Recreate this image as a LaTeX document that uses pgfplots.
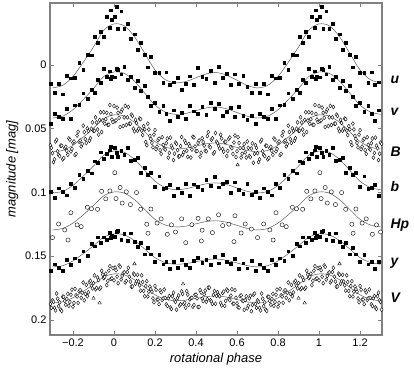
\documentclass[border=0pt]{standalone}
\usepackage{fontspec}
\setmainfont{Liberation Sans}
\usepackage{pgfplots}
\usepackage{pgfplotstable}
\pgfplotsset{compat=1.18}

% Stromgren u v b y, phase folded to [0,1)
\pgfplotstableread{
ph u v b y
0.005 -0.0380 0.0096 0.0646 0.1346
0.020 -0.0286 0.0039 0.0719 0.1298
0.035 -0.0421 0.0073 0.0672 0.1370
0.050 -0.0287 0.0016 0.0705 0.1323
0.065 -0.0321 0.0114 0.0652 0.1376
0.080 -0.0206 0.0093 0.0748 0.1319
0.100 -0.0242 0.0177 0.0741 0.1387
0.115 -0.0122 0.0125 0.0726 0.1427
0.130 -0.0173 0.0204 0.0842 0.1397
0.150 -0.0081 0.0161 0.0806 0.1484
0.165 0.0018 0.0249 0.0862 0.1434
0.180 -0.0063 0.0317 0.0848 0.1485
0.200 0.0059 0.0295 0.0952 0.1541
0.220 0.0060 0.0367 0.0872 0.1487
0.240 0.0140 0.0318 0.0971 0.1563
0.255 0.0057 0.0381 0.0963 0.1542
0.270 0.0155 0.0436 0.0938 0.1596
0.290 0.0135 0.0354 0.1024 0.1541
0.310 0.0098 0.0406 0.0966 0.1592
0.330 0.0194 0.0373 0.1004 0.1530
0.350 0.0150 0.0420 0.0931 0.1568
0.370 0.0088 0.0321 0.1023 0.1592
0.390 0.0156 0.0363 0.0935 0.1536
0.410 0.0024 0.0384 0.0957 0.1509
0.430 0.0092 0.0325 0.0980 0.1553
0.450 0.0110 0.0387 0.0902 0.1527
0.470 0.0046 0.0294 0.0949 0.1565
0.490 0.0142 0.0341 0.0876 0.1503
0.510 0.0014 0.0302 0.0958 0.1554
0.530 0.0102 0.0398 0.0933 0.1488
0.550 0.0070 0.0364 0.0918 0.1542
0.570 0.0156 0.0335 0.0999 0.1560
0.590 0.0072 0.0407 0.0919 0.1519
0.610 0.0148 0.0328 0.0980 0.1597
0.630 0.0084 0.0400 0.1010 0.1555
0.650 0.0170 0.0432 0.0931 0.1594
0.670 0.0218 0.0397 0.1016 0.1538
0.690 0.0146 0.0463 0.0991 0.1612
0.710 0.0216 0.0383 0.1041 0.1562
0.730 0.0148 0.0407 0.0966 0.1588
0.750 0.0230 0.0422 0.0991 0.1614
0.770 0.0082 0.0341 0.1022 0.1529
0.790 0.0104 0.0421 0.0934 0.1565
0.810 0.0098 0.0315 0.0960 0.1516
0.830 -0.0017 0.0313 0.0861 0.1533
0.850 0.0039 0.0222 0.0892 0.1460
0.870 -0.0079 0.0267 0.0831 0.1496
0.890 -0.0077 0.0192 0.0849 0.1401
0.905 -0.0224 0.0216 0.0755 0.1422
0.920 -0.0173 0.0117 0.0769 0.1351
0.935 -0.0263 0.0139 0.0684 0.1391
0.950 -0.0222 0.0031 0.0738 0.1351
0.965 -0.0377 0.0090 0.0698 0.1373
0.980 -0.0292 0.0049 0.0668 0.1315
0.990 -0.0352 0.0092 0.0722 0.1340
0.012 -0.0455 0.0030 0.0690 0.1310
0.985 -0.0430 0.0110 0.0640 0.1355
}\strom

% Johnson B V, phase folded to [0,1)
\pgfplotstableread{
ph B V
0.000 0.0322 0.1689
0.005 0.0442 0.1589
0.010 0.0434 0.1610
0.015 0.0334 0.1660
0.020 0.0375 0.1712
0.025 0.0415 0.1572
0.030 0.0487 0.1583
0.035 0.0367 0.1683
0.040 0.0349 0.1654
0.045 0.0479 0.1634
0.050 0.0411 0.1626
0.055 0.0321 0.1706
0.060 0.0471 0.1694
0.065 0.0411 0.1624
0.070 0.0330 0.1591
0.075 0.0460 0.1661
0.080 0.0460 0.1699
0.085 0.0390 0.1739
0.090 0.0400 0.1737
0.095 0.0500 0.1637
0.100 0.0520 0.1645
0.105 0.0430 0.1715
0.110 0.0455 0.1696
0.115 0.0515 0.1646
0.120 0.0500 0.1698
0.125 0.0420 0.1728
0.130 0.0425 0.1770
0.135 0.0515 0.1650
0.140 0.0550 0.1702
0.145 0.0480 0.1772
0.150 0.0505 0.1814
0.155 0.0605 0.1734
0.160 0.0630 0.1696
0.165 0.0460 0.1816
0.170 0.0506 0.1778
0.175 0.0556 0.1738
0.180 0.0581 0.1759
0.185 0.0611 0.1779
0.190 0.0646 0.1831
0.195 0.0546 0.1861
0.200 0.0511 0.1733
0.205 0.0661 0.1763
0.210 0.0640 0.1840
0.215 0.0590 0.1840
0.220 0.0578 0.1877
0.225 0.0668 0.1767
0.230 0.0697 0.1784
0.235 0.0567 0.1844
0.240 0.0626 0.1831
0.245 0.0656 0.1761
0.250 0.0664 0.1827
0.255 0.0614 0.1877
0.260 0.0577 0.1890
0.265 0.0727 0.1830
0.270 0.0690 0.1812
0.275 0.0570 0.1902
0.280 0.0633 0.1914
0.285 0.0653 0.1814
0.290 0.0746 0.1786
0.295 0.0696 0.1846
0.300 0.0609 0.1859
0.305 0.0619 0.1919
0.310 0.0668 0.1828
0.315 0.0718 0.1808
0.320 0.0716 0.1887
0.325 0.0636 0.1877
0.330 0.0565 0.1776
0.335 0.0705 0.1796
0.340 0.0684 0.1875
0.345 0.0594 0.1865
0.350 0.0613 0.1904
0.355 0.0673 0.1774
0.360 0.0720 0.1801
0.365 0.0620 0.1881
0.370 0.0636 0.1839
0.375 0.0726 0.1829
0.380 0.0663 0.1826
0.385 0.0563 0.1896
0.390 0.0569 0.1883
0.395 0.0639 0.1803
0.400 0.0676 0.1801
0.405 0.0676 0.1831
0.410 0.0612 0.1898
0.415 0.0592 0.1898
0.420 0.0719 0.1765
0.425 0.0689 0.1785
0.430 0.0575 0.1832
0.435 0.0605 0.1852
0.440 0.0632 0.1800
0.445 0.0672 0.1770
0.450 0.0678 0.1857
0.455 0.0558 0.1837
0.460 0.0527 0.1746
0.465 0.0637 0.1746
0.470 0.0646 0.1845
0.475 0.0586 0.1855
0.480 0.0575 0.1874
0.485 0.0695 0.1804
0.490 0.0684 0.1773
0.495 0.0534 0.1873
0.500 0.0602 0.1812
0.505 0.0612 0.1782
0.510 0.0635 0.1804
0.515 0.0655 0.1814
0.520 0.0547 0.1866
0.525 0.0577 0.1886
0.530 0.0659 0.1788
0.535 0.0679 0.1778
0.540 0.0602 0.1890
0.545 0.0602 0.1850
0.550 0.0714 0.1761
0.555 0.0674 0.1771
0.560 0.0579 0.1835
0.565 0.0569 0.1845
0.570 0.0643 0.1809
0.575 0.0653 0.1759
0.580 0.0698 0.1872
0.585 0.0608 0.1872
0.590 0.0553 0.1766
0.595 0.0723 0.1826
0.600 0.0677 0.1870
0.605 0.0567 0.1900
0.610 0.0612 0.1903
0.615 0.0652 0.1813
0.620 0.0726 0.1807
0.625 0.0696 0.1847
0.630 0.0651 0.1851
0.635 0.0621 0.1921
0.640 0.0686 0.1844
0.645 0.0726 0.1814
0.650 0.0600 0.1908
0.655 0.0650 0.1888
0.660 0.0713 0.1830
0.665 0.0723 0.1810
0.670 0.0655 0.1932
0.675 0.0615 0.1882
0.680 0.0767 0.1803
0.685 0.0697 0.1793
0.690 0.0630 0.1875
0.695 0.0650 0.1905
0.700 0.0692 0.1847
0.705 0.0762 0.1857
0.710 0.0740 0.1905
0.715 0.0600 0.1925
0.720 0.0587 0.1793
0.725 0.0677 0.1833
0.730 0.0705 0.1892
0.735 0.0715 0.1862
0.740 0.0633 0.1920
0.745 0.0633 0.1930
0.750 0.0740 0.1818
0.755 0.0730 0.1818
0.760 0.0652 0.1851
0.765 0.0642 0.1881
0.770 0.0674 0.1835
0.775 0.0704 0.1795
0.780 0.0576 0.1889
0.785 0.0586 0.1859
0.790 0.0678 0.1802
0.795 0.0658 0.1762
0.800 0.0610 0.1896
0.805 0.0600 0.1866
0.810 0.0707 0.1756
0.815 0.0697 0.1806
0.820 0.0554 0.1816
0.825 0.0524 0.1866
0.830 0.0602 0.1776
0.835 0.0592 0.1766
0.840 0.0639 0.1826
0.845 0.0619 0.1786
0.850 0.0476 0.1706
0.855 0.0526 0.1846
0.860 0.0582 0.1795
0.865 0.0612 0.1725
0.870 0.0498 0.1814
0.875 0.0518 0.1784
0.880 0.0594 0.1703
0.885 0.0574 0.1693
0.890 0.0500 0.1732
0.895 0.0450 0.1752
0.900 0.0516 0.1711
0.905 0.0516 0.1651
0.910 0.0411 0.1759
0.915 0.0451 0.1749
0.920 0.0506 0.1667
0.925 0.0546 0.1687
0.930 0.0431 0.1756
0.935 0.0371 0.1746
0.940 0.0526 0.1614
0.945 0.0436 0.1644
0.950 0.0371 0.1672
0.955 0.0461 0.1662
0.960 0.0425 0.1637
0.965 0.0375 0.1727
0.970 0.0469 0.1693
0.975 0.0469 0.1613
0.980 0.0314 0.1578
0.985 0.0384 0.1678
0.990 0.0428 0.1674
0.995 0.0448 0.1594
}\johnson

% Hipparcos Hp, phase folded to [0,1)
\pgfplotstableread{
ph Hp
0.01 0.1048
0.03 0.0961
0.04 0.1083
0.06 0.0995
0.08 0.1095
0.11 0.1001
0.13 0.1132
0.16 0.1249
0.18 0.1130
0.21 0.1240
0.23 0.1207
0.26 0.1328
0.28 0.1254
0.30 0.1310
0.33 0.1207
0.35 0.1394
0.38 0.1253
0.41 0.1203
0.43 0.1296
0.46 0.1207
0.48 0.1315
0.51 0.1175
0.53 0.1260
0.56 0.1249
0.59 0.1183
0.62 0.1318
0.64 0.1247
0.67 0.1287
0.70 0.1354
0.73 0.1247
0.76 0.1294
0.79 0.1159
0.82 0.1254
0.84 0.1268
0.87 0.1116
0.89 0.1128
0.92 0.1132
0.94 0.0991
0.96 0.1050
0.98 0.0988
0.004 0.0845
0.166 0.1320
0.426 0.1380
0.585 0.1386
0.776 0.1373
}\hipp

% odd points (open triangles)
\pgfplotstableread{
ph m
0.100 0.1560
0.337 0.1718
0.603 0.0784
0.900 0.1830
0.930 0.1867
}\odd

% fitted light curves
\pgfplotstableread{
ph u v B b Hp y V
-0.30 0.0180 0.0416 0.0682 0.1004 0.1294 0.1584 0.1867
-0.25 0.0160 0.0402 0.0670 0.0991 0.1282 0.1574 0.1858
-0.20 0.0090 0.0351 0.0630 0.0945 0.1240 0.1537 0.1826
-0.15 -0.0021 0.0272 0.0566 0.0872 0.1175 0.1480 0.1776
-0.10 -0.0141 0.0185 0.0496 0.0793 0.1103 0.1418 0.1721
-0.05 -0.0272 0.0091 0.0421 0.0708 0.1026 0.1351 0.1662
0.00 -0.0322 0.0055 0.0392 0.0675 0.0996 0.1325 0.1639
0.05 -0.0307 0.0066 0.0401 0.0685 0.1005 0.1333 0.1646
0.10 -0.0222 0.0127 0.0450 0.0741 0.1056 0.1377 0.1685
0.15 -0.0091 0.0221 0.0525 0.0826 0.1133 0.1444 0.1744
0.20 0.0039 0.0315 0.0601 0.0912 0.1211 0.1511 0.1803
0.25 0.0115 0.0369 0.0644 0.0961 0.1255 0.1550 0.1837
0.30 0.0140 0.0387 0.0659 0.0978 0.1270 0.1563 0.1849
0.35 0.0130 0.0380 0.0653 0.0971 0.1264 0.1558 0.1844
0.40 0.0100 0.0358 0.0636 0.0951 0.1246 0.1543 0.1831
0.45 0.0070 0.0337 0.0618 0.0932 0.1228 0.1527 0.1817
0.50 0.0060 0.0329 0.0612 0.0925 0.1222 0.1522 0.1812
0.55 0.0080 0.0344 0.0624 0.0938 0.1234 0.1532 0.1821
0.60 0.0120 0.0373 0.0647 0.0965 0.1258 0.1553 0.1840
0.65 0.0160 0.0402 0.0670 0.0991 0.1282 0.1574 0.1858
0.70 0.0180 0.0416 0.0682 0.1004 0.1294 0.1584 0.1867
0.75 0.0160 0.0402 0.0670 0.0991 0.1282 0.1574 0.1858
0.80 0.0090 0.0351 0.0630 0.0945 0.1240 0.1537 0.1826
0.85 -0.0021 0.0272 0.0566 0.0872 0.1175 0.1480 0.1776
0.90 -0.0141 0.0185 0.0496 0.0793 0.1103 0.1418 0.1721
0.95 -0.0272 0.0091 0.0421 0.0708 0.1026 0.1351 0.1662
1.00 -0.0322 0.0055 0.0392 0.0675 0.0996 0.1325 0.1639
1.05 -0.0307 0.0066 0.0401 0.0685 0.1005 0.1333 0.1646
1.10 -0.0222 0.0127 0.0450 0.0741 0.1056 0.1377 0.1685
1.15 -0.0091 0.0221 0.0525 0.0826 0.1133 0.1444 0.1744
1.20 0.0039 0.0315 0.0601 0.0912 0.1211 0.1511 0.1803
1.25 0.0115 0.0369 0.0644 0.0961 0.1255 0.1550 0.1837
1.30 0.0140 0.0387 0.0659 0.0978 0.1270 0.1563 0.1849
}\fits

% phase-folded data are shown in three cycles
\newcommand{\folded}[3]{%
  \addplot[#1] table[x=ph,y=#3]{#2};
  \addplot[#1] table[x expr=\thisrow{ph}-1,y=#3]{#2};
  \addplot[#1] table[x expr=\thisrow{ph}+1,y=#3]{#2};
}

\pgfplotsset{
  sq/.style={only marks, mark=square*, mark size=1.4pt, black},
  dm/.style={only marks, mark=diamond*, mark size=2.0pt,
    mark options={draw=black, fill=white, line width=0.4pt}},
  ci/.style={only marks, mark=*, mark size=2.1pt,
    mark options={draw=black, fill=white, line width=0.4pt}},
  tr/.style={only marks, mark=triangle*, mark size=2.0pt,
    mark options={draw=black, fill=white, line width=0.4pt}},
  fit/.style={black!70, line width=0.45pt, smooth, no marks},
}

\begin{document}
\begin{tikzpicture}
  \begin{axis}[
      scale only axis,
      width=332bp,
      height=332bp,
      xmin=-0.312, xmax=1.307,
      ymin=-0.0486, ymax=0.2118,
      y dir=reverse,
      restrict x to domain=-0.312:1.307,
      clip=false,
      xtick={-0.2,0,0.2,0.4,0.6,0.8,1,1.2},
      xticklabels={−0.2,0,0.2,0.4,0.6,0.8,1,1.2},
      ytick={0,0.05,0.1,0.15,0.2},
      yticklabels={0,0.05,0.1,0.15,0.2},
      xtick pos=both,
      ytick pos=both,
      xticklabel pos=lower,
      yticklabel pos=left,
      tick align=inside,
      major tick length=4bp,
      tick style={gray, line width=0.6pt},
      axis line style={gray, line width=1.1pt},
      tick label style={font=\fontsize{11}{13}\selectfont},
      label style={font=\fontsize{13}{15}\selectfont\itshape},
      xlabel={rotational phase},
      ylabel={magnitude [mag]},
    ]

    \folded{dm}{\johnson}{B}
    \folded{dm}{\johnson}{V}
    \folded{sq}{\strom}{u}
    \folded{sq}{\strom}{v}
    \folded{sq}{\strom}{b}
    \folded{sq}{\strom}{y}
    \folded{ci}{\hipp}{Hp}
    \folded{tr}{\odd}{m}

    \addplot[fit] table[x=ph,y=u]{\fits};
    \addplot[fit] table[x=ph,y=v]{\fits};
    \addplot[fit] table[x=ph,y=B]{\fits};
    \addplot[fit] table[x=ph,y=b]{\fits};
    \addplot[fit] table[x=ph,y=Hp]{\fits};
    \addplot[fit] table[x=ph,y=y]{\fits};
    \addplot[fit] table[x=ph,y=V]{\fits};

    \begin{scope}[every node/.style={anchor=west, xshift=5bp,
        font=\fontsize{14}{14}\selectfont\bfseries\itshape}]
      \node at (axis cs:1.307,0.0118) {u};
      \node at (axis cs:1.307,0.0369) {v};
      \node at (axis cs:1.307,0.0682) {B};
      \node at (axis cs:1.307,0.0957) {b};
      \node at (axis cs:1.307,0.1255) {Hp};
      \node at (axis cs:1.307,0.1553) {y};
      \node at (axis cs:1.307,0.1827) {V};
    \end{scope}
  \end{axis}
  \pgfresetboundingbox
  \path (-50bp,-38bp) rectangle (364bp,335bp);
\end{tikzpicture}
\end{document}
